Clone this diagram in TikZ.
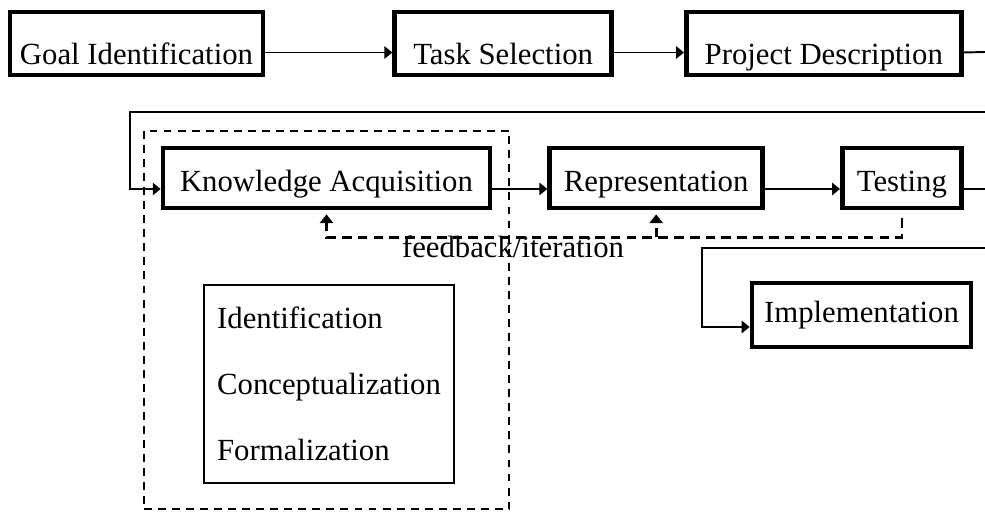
\documentclass[tikz,border=0pt]{standalone}
\usepackage{fontspec}
\setmainfont{Liberation Serif}
\usetikzlibrary{arrows.meta, positioning, fit, backgrounds}

\begin{document}
\begin{tikzpicture}[
        x=0.02cm, y=-0.02cm,
        box/.style={rectangle, draw, line width=2.7pt, inner ysep=0pt, text depth=0pt, font=\fontsize{17.5}{21}\selectfont},
        toprow/.style={box, minimum height=1.26cm, text height=0.86cm},
        midrow/.style={box, minimum height=1.2cm, text height=0.56cm},
        flow/.style={-{Triangle[length=4.5pt, width=7pt]}, line width=1.1pt},
        back/.style={-{Triangle[length=5pt, width=7.5pt]}, line width=1.5pt, dash pattern=on 5.5pt off 3.5pt},
        group/.style={rectangle, draw, line width=1.1pt, dash pattern=on 4.5pt off 3.5pt}
    ]
    \useasboundingbox (0,0) rectangle (985,523);

    % Top row
    \node[toprow, minimum width=5.06cm] (goal) at (136.5,43.5) {Goal Identification};
    \node[toprow, minimum width=4.34cm, right=2.54cm of goal] (task) {Task Selection};
    \node[toprow, minimum width=5.5cm, right=1.4cm of task] (proj) {Project Description};

    % Middle row
    \node[midrow, minimum width=6.54cm] (know) at (326.5,178) {Knowledge Acquisition};
    \node[midrow, minimum width=4.26cm, right=1.1cm of know] (repr) {Representation};
    \node[midrow, minimum width=2.38cm, right=1.5cm of repr] (test) {Testing};

    % Bottom
    \node[box, minimum width=4.38cm, minimum height=1.28cm, text height=0.32cm] (impl) at (861.5,315) {Implementation};
    \node[draw, line width=1.6pt, minimum width=5cm, minimum height=3.96cm, align=left,
          font=\fontsize{17.5}{37.5}\selectfont] (steps) at (329,384) {Identification\\Conceptualization\\Formalization};
    \begin{scope}[on background layer]
        \node[group, fit=(know)(steps), inner xsep=0.34cm, inner ysep=0.4cm, yshift=-0.1cm] (phase) {};
    \end{scope}

    % Connections
    \coordinate (r1) at (985,52);
    \coordinate (r2) at (985,112);
    \coordinate (l2) at (130,112);
    \coordinate (r3) at (985,189);
    \coordinate (r4) at (985,248);
    \coordinate (l4) at (702,248);
    \draw[flow] ([yshift=-0.18cm]goal.east) -- ([yshift=-0.18cm]task.west);
    \draw[flow] ([yshift=-0.18cm]task.east) -- ([yshift=-0.18cm]proj.west);
    \draw[line width=1.1pt] ([yshift=-0.18cm]proj.east) -- (r1);
    \draw[flow] (r2) -- (l2) |- ([yshift=-0.22cm]know.west);
    \draw[flow] ([yshift=-0.22cm]know.east) -- ([yshift=-0.22cm]repr.west);
    \draw[flow] ([yshift=-0.22cm]repr.east) -- ([yshift=-0.22cm]test.west);
    \draw[line width=1.1pt] ([yshift=-0.22cm]test.east) -- (r3);
    \draw[flow] (r4) -- (l4) |- ([yshift=-0.24cm]impl.west);

    % Feedback
    \draw[back] ([yshift=-0.16cm]test.south) -- ++(0,19) coordinate (fb) -| ([yshift=-0.08cm]know.south);
    \draw[back] (repr.south |- fb) -- ([yshift=-0.08cm]repr.south);
    \node[font=\fontsize{17.5}{21}\selectfont] (fblabel) at (513,247) {feedback/iteration};
\end{tikzpicture}
\end{document}
